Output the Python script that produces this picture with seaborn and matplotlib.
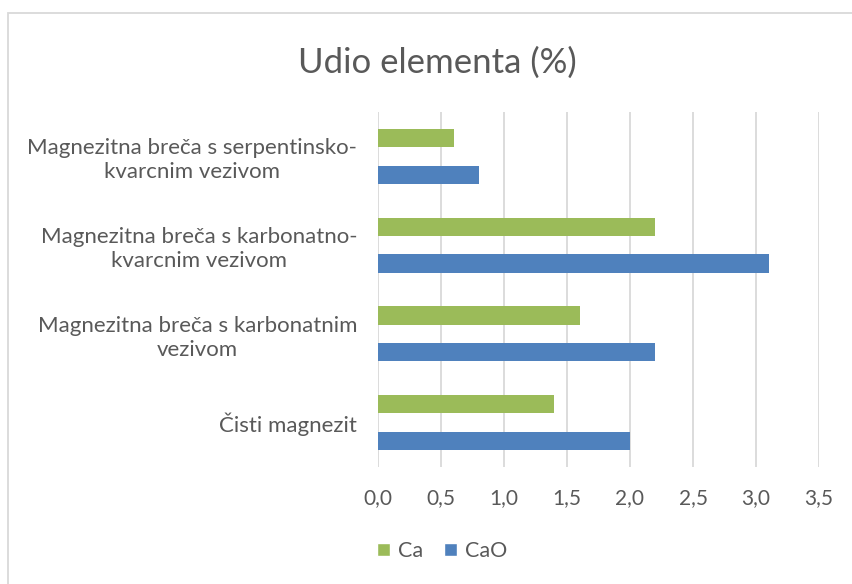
import matplotlib
matplotlib.use("Agg")
import matplotlib.pyplot as plt
import seaborn as sns
import pandas as pd
from matplotlib.patches import Rectangle

categories = [
    "Magnezitna breča s serpentinsko-\nkvarcnim vezivom",
    "Magnezitna breča s karbonatno-\nkvarcnim vezivom",
    "Magnezitna breča s karbonatnim\nvezivom",
    "Čisti magnezit",
]
ca_values = [0.6, 2.2, 1.6, 1.4]
cao_values = [0.8, 3.1, 2.2, 2.0]
series = ["Ca", "CaO"]
xticks = [0.0, 0.5, 1.0, 1.5, 2.0, 2.5, 3.0, 3.5]
xtick_labels = ["0,0", "0,5", "1,0", "1,5", "2,0", "2,5", "3,0", "3,5"]

df = pd.DataFrame({
    "cat": categories * 2,
    "val": ca_values + cao_values,
    "series": [series[0]] * 4 + [series[1]] * 4,
})

sns.set_theme(style="white")
plt.rcParams["font.family"] = ["Lato", "DejaVu Sans"]
text_color = "#595959"
grid_color = "#D9D9D9"

fig = plt.figure(figsize=(8.52, 5.84), dpi=100)
W, H = 852, 584
ax = fig.add_axes([378 / W, 1 - 467 / H, (819 - 378) / W, (467 - 112) / H])

sns.barplot(data=df, y="cat", x="val", hue="series", hue_order=series,
            order=categories, orient="h", palette=["#9BBB59", "#4F81BD"],
            saturation=1, width=0.83, ax=ax, legend=True)

for p in ax.patches:
    if p.get_height() > 0 and p.get_width() > 0:
        c = p.get_y() + p.get_height() / 2
        p.set_height(0.205)
        p.set_y(c - 0.1025)
        p.set_linewidth(0)

ax.set_xlim(0, 3.5)
ax.set_ylim(3.5, -0.5)
ax.set_xticks(xticks)
ax.set_xticklabels(xtick_labels, color=text_color, fontsize=15)
ax.set_yticks(range(len(categories)))
ax.set_yticklabels(categories, color=text_color, fontsize=16,
                   multialignment="center", linespacing=1.25)
ax.tick_params(axis="x", length=0, pad=15)
ax.tick_params(axis="y", length=0, pad=15)
ax.set_xlabel("")
ax.set_ylabel("")
ax.grid(axis="x", color=grid_color, linewidth=1.3)
ax.set_axisbelow(True)
for s in ax.spines.values():
    s.set_visible(False)

handles, labels = ax.get_legend_handles_labels()
ax.legend_.remove()
fig.legend(handles, labels, loc="center", bbox_to_anchor=(442 / W, 1 - 551 / H),
           ncol=2, frameon=False, fontsize=15.5, handlelength=0.6, handleheight=0.6,
           handletextpad=0.35, columnspacing=1.0, labelcolor=text_color)

fig.text(437 / W, 1 - 63 / H, "Udio elementa (%)", ha="center", va="center",
         fontsize=25, color=text_color)

fig.patches.append(Rectangle((8 / W, -0.1), 2, (1 - 13 / H) + 0.1,
                             transform=fig.transFigure, fill=False,
                             edgecolor=grid_color, linewidth=1.3))

fig.savefig("out.png", dpi=100)
